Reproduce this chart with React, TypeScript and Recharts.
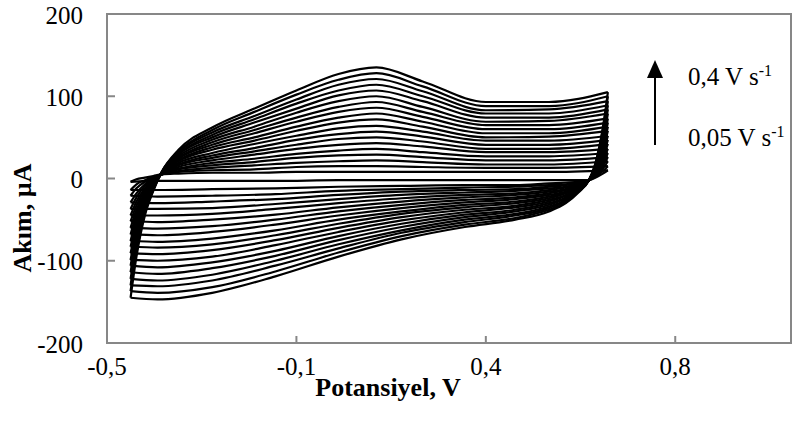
import { LineChart, Line, XAxis, YAxis, ReferenceArea } from 'recharts';

// potentials (V) of the forward (anodic) scan, and currents in µA;
// each row is one potential, each column one scan rate (0,05 ... 0,4 V/s)
const anodicPotential = [-0.444, -0.43, -0.41, -0.39, -0.37, -0.33, -0.25, -0.15, -0.05, 0.05, 0.14, 0.25, 0.4, 0.55, 0.69];
const anodicCurrent = [
  [-4, -14, -21, -29, -37, -45, -52, -60, -68, -76, -83, -91, -99, -106, -114, -122, -130, -137, -145],
  [-1, -7, -12, -18, -23, -28, -33, -38, -43, -48, -54, -59, -64, -69, -74, -80, -85, -90, -95],
  [1, -2, -4, -7, -9, -12, -14, -17, -19, -22, -25, -27, -30, -32, -35, -37, -40, -42, -45],
  [3, 2, 1, 0, -1, -2, -3, -4, -5, -6, -7, -8, -9, -10, -11, -12, -13, -14, -15],
  [5, 5, 5, 5, 5, 5, 5, 6, 6, 6, 6, 6, 7, 7, 7, 7, 8, 8, 8],
  [6, 8, 9, 11, 12, 14, 16, 17, 19, 21, 22, 24, 25, 27, 29, 30, 32, 33, 35],
  [7, 10, 13, 16, 19, 22, 25, 28, 31, 35, 38, 41, 44, 47, 50, 53, 56, 59, 62],
  [7, 11, 16, 20, 24, 29, 33, 37, 42, 46, 50, 55, 59, 63, 68, 72, 76, 81, 85],
  [8, 14, 19, 25, 30, 36, 41, 47, 52, 58, 63, 69, 74, 80, 85, 91, 96, 102, 107],
  [8, 15, 21, 28, 34, 41, 48, 54, 61, 68, 74, 81, 87, 94, 101, 107, 114, 120, 127],
  [8, 15, 22, 29, 36, 43, 50, 57, 64, 72, 79, 86, 93, 100, 107, 114, 121, 128, 135],
  [8, 14, 20, 26, 32, 39, 45, 51, 57, 63, 69, 75, 81, 87, 94, 100, 106, 112, 118],
  [8, 13, 17, 22, 27, 32, 36, 41, 46, 50, 55, 60, 65, 69, 74, 79, 83, 88, 93],
  [8, 13, 17, 22, 27, 32, 36, 41, 46, 51, 55, 60, 65, 70, 74, 79, 84, 88, 93],
  [10, 15, 21, 26, 31, 36, 42, 47, 52, 58, 63, 68, 73, 79, 84, 89, 94, 100, 105],
];

// reverse (cathodic) scan, same layout
const cathodicPotential = [-0.444, -0.38, -0.25, -0.1, 0.05, 0.2, 0.35, 0.47, 0.55, 0.59, 0.62, 0.645, 0.66, 0.678, 0.69];
const cathodicCurrent = [
  [-4, -14, -21, -29, -37, -45, -52, -60, -68, -76, -83, -91, -99, -106, -114, -122, -130, -137, -145],
  [-3, -14, -22, -30, -37, -45, -53, -61, -69, -77, -84, -92, -100, -108, -116, -124, -131, -139, -147],
  [-3, -13, -21, -28, -36, -43, -50, -58, -65, -73, -80, -87, -95, -102, -109, -117, -124, -132, -139],
  [-3, -12, -19, -25, -31, -37, -44, -50, -56, -63, -69, -75, -81, -88, -94, -100, -106, -113, -119],
  [-2, -10, -15, -20, -25, -30, -35, -40, -45, -50, -55, -60, -65, -70, -75, -80, -85, -90, -95],
  [-2, -9, -13, -16, -20, -24, -28, -32, -36, -40, -43, -47, -51, -55, -59, -63, -66, -70, -74],
  [-2, -8, -11, -14, -17, -20, -23, -26, -29, -32, -35, -38, -41, -44, -47, -50, -53, -56, -59],
  [-2, -8, -10, -13, -15, -18, -20, -23, -25, -28, -30, -33, -35, -38, -40, -43, -45, -48, -50],
  [-2, -6, -8, -10, -12, -14, -16, -18, -20, -22, -24, -26, -28, -30, -32, -34, -36, -38, -40],
  [-2, -5, -7, -8, -10, -11, -13, -14, -16, -17, -18, -20, -21, -23, -24, -26, -27, -29, -30],
  [-2, -4, -5, -5, -6, -7, -8, -8, -9, -10, -11, -12, -12, -13, -14, -15, -15, -16, -17],
  [-2, -2, -2, -2, -2, -2, -2, -2, -2, -2, -2, -2, -2, -2, -2, -2, -2, -2, -2],
  [1, 2, 3, 4, 5, 6, 7, 8, 9, 10, 10, 11, 12, 13, 14, 15, 16, 17, 18],
  [6, 9, 12, 15, 18, 22, 25, 28, 31, 34, 37, 40, 43, 46, 50, 53, 56, 59, 62],
  [10, 15, 21, 26, 31, 36, 42, 47, 52, 58, 63, 68, 73, 79, 84, 89, 94, 100, 105],
];

const xTicks = [-0.5, -0.05, 0.4, 0.85];
const xTickLabels = ['-0,5', '-0,1', '0,4', '0,8'];
const yTicks = [-200, -100, 0, 100, 200];

const AXIS = '#878787';
const FONT = '"Liberation Serif", "Times New Roman", serif';

const branch = (pot: number[], table: number[][], k: number) =>
  pot.map((v, i) => ({ v, i: table[i][k] }));

const curveIds = anodicCurrent[0].map((_, k) => k);

const XTick = ({ x, y, payload }: any) => (
  <g>
    <line x1={x} y1={y} x2={x} y2={y - 7} stroke={AXIS} strokeWidth={2} />
    <text x={x} y={y + 23} textAnchor="middle" dominantBaseline="central"
      fontFamily={FONT} fontSize={25} fill="#000">
      {xTickLabels[xTicks.indexOf(payload.value)]}
    </text>
  </g>
);

const YTick = ({ x, y, payload }: any) => (
  <g>
    <line x1={x} y1={y} x2={x + 8} y2={y} stroke={AXIS} strokeWidth={2} />
    <text x={x - 24} y={y + 1} textAnchor="end" dominantBaseline="central"
      fontFamily={FONT} fontSize={25} fill="#000">
      {payload.value}
    </text>
  </g>
);

export default function App() {
  return (
    <div style={{ position: 'relative', width: 795, height: 423, background: '#fff' }}>
      <style>{'body{margin:0}'}</style>
      <LineChart width={795} height={423} margin={{ top: 14, right: 4, bottom: 50, left: 47 }}>
        <XAxis type="number" dataKey="v" domain={[-0.5, 1.125]} ticks={xTicks} interval={0}
          allowDataOverflow height={30} tickSize={0} tickMargin={0} tick={XTick}
          axisLine={{ stroke: AXIS, strokeWidth: 2 }} tickLine={false} />
        <YAxis type="number" domain={[-200, 200]} ticks={yTicks} interval={0}
          allowDataOverflow width={60} tickSize={0} tickMargin={0} tick={YTick}
          axisLine={{ stroke: AXIS, strokeWidth: 2 }} tickLine={false} />
        <ReferenceArea x1={-0.5} x2={1.125} y1={-200} y2={200} fill="none"
          stroke={AXIS} strokeWidth={2} />
        {curveIds.map((k) => [
          <Line key={'a' + k} data={branch(anodicPotential, anodicCurrent, k)} dataKey="i"
            type="monotone" stroke="#000" strokeWidth={2.2} dot={false} activeDot={false}
            isAnimationActive={false} />,
          <Line key={'c' + k} data={branch(cathodicPotential, cathodicCurrent, k)} dataKey="i"
            type="monotone" stroke="#000" strokeWidth={2.2} dot={false} activeDot={false}
            isAnimationActive={false} />,
        ])}
      </LineChart>
      <svg width={795} height={423} style={{ position: 'absolute', left: 0, top: 0, pointerEvents: 'none' }}>
        <line x1={655} y1={145} x2={655} y2={74} stroke="#000" strokeWidth={2} />
        <polygon points="647,78 663,78 655,60" fill="#000" />
        <text x={688} y={85} fontFamily={FONT} fontSize={25} fill="#000">
          0,4 V s<tspan dy={-9} fontSize={16}>-1</tspan>
        </text>
        <text x={688} y={146} fontFamily={FONT} fontSize={25} fill="#000">
          0,05 V s<tspan dy={-9} fontSize={16}>-1</tspan>
        </text>
        <text x={388} y={387} textAnchor="middle" dominantBaseline="central"
          fontFamily={FONT} fontSize={26} fontWeight="bold" fill="#000">
          Potansiyel, V
        </text>
        <text transform="translate(22,218) rotate(-90)" textAnchor="middle" dominantBaseline="central"
          fontFamily={FONT} fontSize={26} fontWeight="bold" fill="#000">
          Akım, µA
        </text>
      </svg>
    </div>
  );
}
